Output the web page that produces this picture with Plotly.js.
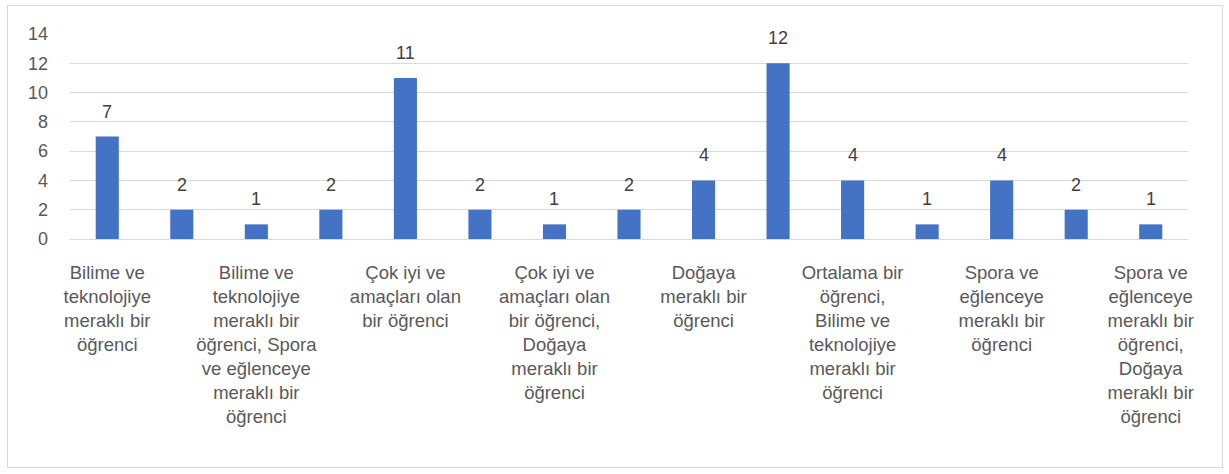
<!DOCTYPE html>
<html>
<head>
<meta charset="utf-8">
<script src="https://cdn.plot.ly/plotly-3.0.1.min.js"></script>
<style>
html,body{margin:0;padding:0;background:#fff;}
#wrap{position:absolute;left:7px;top:5px;width:1214px;height:461px;border:1px solid #d9d9d9;}
#chart{position:absolute;left:0;top:0;width:1229px;height:474px;}
</style>
</head>
<body>
<div id="wrap"></div>
<div id="chart"></div>
<script>
// 15 bars; the chart only shows every other category label
const barIndex = [0,1,2,3,4,5,6,7,8,9,10,11,12,13,14];
const values = [7,2,1,2,11,2,1,2,4,12,4,1,4,2,1];
const labelIndex = [0,2,4,6,8,10,12,14];
const tickLabels = [
  "Bilime ve<br>teknolojiye<br>meraklı bir<br>öğrenci",
  "Bilime ve<br>teknolojiye<br>meraklı bir<br>öğrenci, Spora<br>ve eğlenceye<br>meraklı bir<br>öğrenci",
  "Çok iyi ve<br>amaçları olan<br>bir öğrenci",
  "Çok iyi ve<br>amaçları olan<br>bir öğrenci,<br>Doğaya<br>meraklı bir<br>öğrenci",
  "Doğaya<br>meraklı bir<br>öğrenci",
  "Ortalama bir<br>öğrenci,<br>Bilime ve<br>teknolojiye<br>meraklı bir<br>öğrenci",
  "Spora ve<br>eğlenceye<br>meraklı bir<br>öğrenci",
  "Spora ve<br>eğlenceye<br>meraklı bir<br>öğrenci,<br>Doğaya<br>meraklı bir<br>öğrenci"
];
const yTicks = [0,2,4,6,8,10,12,14];

const FONT = "Liberation Sans, Arial, sans-serif";

const trace = {
  type: 'bar',
  x: barIndex,
  y: values,
  width: 0.31,
  marker: {color: '#4472c4'},
  hoverinfo: 'y'
};

const annotations = barIndex.map((xi, i) => ({
  x: xi, y: values[i], xref: 'x', yref: 'y',
  text: String(values[i]), showarrow: false,
  yanchor: 'bottom', yshift: 13,
  font: {family: FONT, size: 18, color: '#404040'}
}));

const layout = {
  width: 1229, height: 474,
  margin: {l: 70, r: 41, t: 34, b: 235},
  paper_bgcolor: 'rgba(0,0,0,0)',
  plot_bgcolor: 'rgba(0,0,0,0)',
  showlegend: false,
  font: {family: FONT, size: 18, color: '#595959'},
  xaxis: {
    range: [-0.5, 14.5],
    tickmode: 'array', tickvals: labelIndex, ticktext: tickLabels,
    tickangle: 0, showgrid: false, zeroline: false,
    showline: false, ticks: '',
    ticklabelstandoff: 20,
    tickfont: {family: FONT, size: 18.5, color: '#595959'}
  },
  yaxis: {
    range: [0, 14],
    tickmode: 'array', tickvals: yTicks,
    showgrid: true, gridcolor: '#d9d9d9', gridwidth: 1,
    zeroline: true, zerolinecolor: '#d9d9d9', zerolinewidth: 1,
    showline: false, ticks: '',
    ticklabelstandoff: 21,
    tickfont: {family: FONT, size: 18, color: '#595959'}
  },
  annotations: annotations
};

Plotly.newPlot('chart', [trace], layout, {displayModeBar: false, staticPlot: true});
</script>
</body>
</html>
